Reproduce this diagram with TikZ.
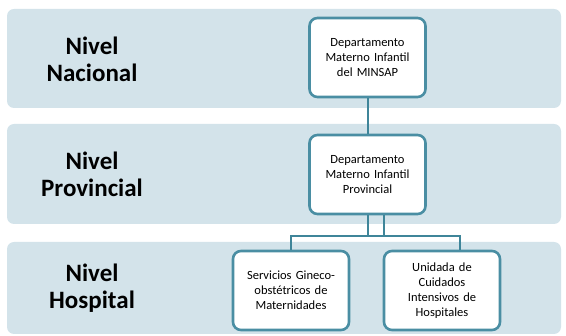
\documentclass[tikz,border=0pt]{standalone}
\usepackage{fontspec}
\setmainfont{Carlito}
\usetikzlibrary{positioning}

\definecolor{bandblue}{HTML}{D3E3EA}
\definecolor{edgeteal}{HTML}{4A8EA3}
\definecolor{linkteal}{HTML}{3F8599}

\tikzset{band/.style={fill=bandblue,rounded corners=7pt}}
\tikzset{level/.style={align=center,font=\fontsize{25}{27}\selectfont\bfseries}}
\tikzset{unit/.style={draw=edgeteal,line width=2.6pt,fill=white,rounded corners=8pt,
    minimum width=116pt,minimum height=79pt,text width=110pt,align=center,
    font=\fontsize{12.5}{15}\selectfont,inner sep=2pt}}
\tikzset{link/.style={draw=linkteal,line width=2pt}}

\begin{document}
\begin{tikzpicture}[x=1pt, y=-1pt]
	\useasboundingbox (0,0) rectangle (566,336);
	
	% bands
	\foreach \t/\b in {9/108, 124/224, 242/334}
	  \fill [band] (7,\t) rectangle (561,\b);
	
	% labels of the levels
	\foreach \l/\y [count=\i] in {Nacional/59, Provincial/174, Hospital/288}
	  \node [level] (level-\i) at (92,\y) {Nivel\\\l};
	
	% units
	\node [unit] (nacional) at (367.5,57.5) {Departamento\\Materno Infantil\\del MINSAP};
	\node [unit] (provincial) at (367.5,174.5) {Departamento\\Materno Infantil\\Provincial};
	\node [unit] (gineco) at (291,290.5) {Servicios Gineco-\\obst\'etricos de\\Maternidades};
	\node [unit] (cuidados) at (442,290.5) {Unidada de\\Cuidados\\Intensivos de\\Hospitales};
	
	% nacional -> provincial
	\draw [link] (nacional) -- (provincial);
	
	% provincial -> hospital
	\draw [link] (provincial.south) -- ++(0,21) coordinate (fork);
	\draw [link] ([xshift=16pt]provincial.south) -- ([xshift=16pt]fork);
	\draw [link] (gineco.north) |- (fork) -| ([xshift=18pt]cuidados.north);
	
\end{tikzpicture}
\end{document}
